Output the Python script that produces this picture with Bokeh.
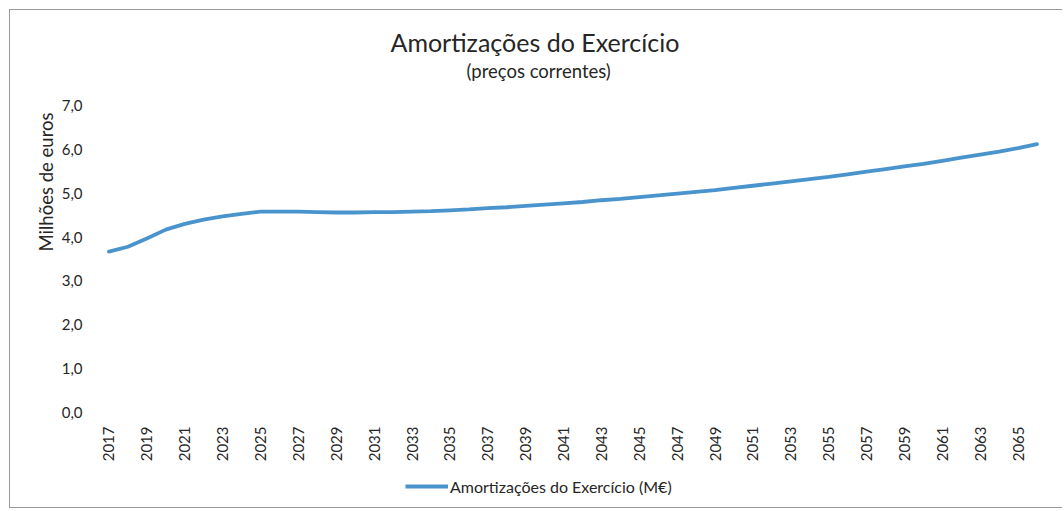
import math
from bokeh.plotting import figure
from bokeh.layouts import column
from bokeh.models import (ColumnDataSource, FixedTicker, CustomJSTickFormatter, Title,
                          Legend, LegendItem, Range1d)
from bokeh.embed import file_html
from bokeh.resources import INLINE

# ---- data ----
years = list(range(2017, 2067))
amortizacoes = [
    3.67, 3.78, 3.97, 4.17, 4.30, 4.40, 4.47, 4.53, 4.58, 4.58,
    4.58, 4.57, 4.56, 4.56, 4.57, 4.57, 4.58, 4.59, 4.61, 4.63,
    4.66, 4.68, 4.71, 4.74, 4.77, 4.80, 4.84, 4.87, 4.91, 4.95,
    4.99, 5.03, 5.07, 5.12, 5.17, 5.22, 5.27, 5.32, 5.37, 5.43,
    5.49, 5.55, 5.61, 5.67, 5.74, 5.81, 5.88, 5.95, 6.03, 6.12,
]
x_tick_years = list(range(2017, 2067, 2))
y_ticks = [0, 1, 2, 3, 4, 5, 6, 7]

title_text = "Amortizações do Exercício"
subtitle_text = "(preços correntes)"
y_title = "Milhões de euros"
series_name = "Amortizações do Exercício (M€)"

FONT = "Lato"
TXT = "#262626"
LINE = "#4a94cd"
BORDER = "1px solid #9a9a9a"

p = figure(width=1053, height=454, output_backend="svg", toolbar_location=None, title=None,
           x_range=Range1d(2016.5, 2066.5), y_range=Range1d(0, 7),
           min_border_left=89, min_border_right=17, min_border_top=95, min_border_bottom=52)
p.styles = {"border-left": BORDER, "border-top": BORDER}
p.outline_line_color = None
p.grid.grid_line_color = None
p.background_fill_color = "white"
p.border_fill_color = "white"

src = ColumnDataSource(dict(x=years, y=amortizacoes))
r = p.line("x", "y", source=src, line_color=LINE, line_width=3.8, line_cap="round", line_join="round")

# axes
p.xaxis.ticker = FixedTicker(ticks=x_tick_years)
p.xaxis.major_label_orientation = math.pi / 2
p.xaxis.major_label_standoff = 8
p.yaxis.ticker = FixedTicker(ticks=y_ticks)
p.yaxis.formatter = CustomJSTickFormatter(code="return tick.toFixed(1).replace('.', ',');")
p.yaxis.major_label_standoff = 11
for ax in (p.xaxis, p.yaxis):
    ax.axis_line_color = None
    ax.major_tick_line_color = None
    ax.minor_tick_line_color = None
    ax.major_label_text_font = FONT
    ax.major_label_text_color = TXT
p.xaxis.major_label_text_font_size = "15px"
p.yaxis.major_label_text_font_size = "15px"

# titles: spacer, subtitle, main title (stacked outward from the plot)
p.add_layout(Title(text=" ", standoff=10, text_font=FONT, text_font_size="10px"), "above")
p.add_layout(Title(text=subtitle_text, align="left", offset=367, standoff=0,
                   text_font=FONT, text_font_size="18.5px", text_font_style="normal",
                   text_color=TXT), "above")
p.add_layout(Title(text=title_text, align="left", offset=291, standoff=2,
                   text_font=FONT, text_font_size="25px", text_font_style="normal",
                   text_color=TXT), "above")
p.add_layout(Title(text=y_title, align="right", offset=7, standoff=4,
                   text_font=FONT, text_font_size="18.5px", text_font_style="normal",
                   text_color=TXT), "left")

# legend strip below the chart (its frame is aligned with the main frame by the column)
q = figure(width=1053, height=45, output_backend="svg", toolbar_location=None,
           x_range=Range1d(0, 1), y_range=Range1d(0, 1),
           x_axis_location=None, y_axis_location=None,
           min_border_left=0, min_border_right=0, min_border_top=0, min_border_bottom=0)
q.styles = {"border-left": BORDER, "border-bottom": BORDER}
q.outline_line_color = None
q.grid.grid_line_color = None
q.border_fill_color = "white"
leg_src = ColumnDataSource(dict(x=[5, 6], y=[5, 6]))
r_leg = q.line("x", "y", source=leg_src, line_color=LINE, line_width=3.8)
legend = Legend(items=[LegendItem(label=series_name, renderers=[r_leg])],
                location=(306, 12), orientation="horizontal",
                glyph_width=43, glyph_height=20, label_standoff=2, padding=0, margin=0,
                border_line_color=None, background_fill_alpha=0,
                label_text_font=FONT, label_text_font_size="16px", label_text_color=TXT)
q.add_layout(legend, "center")

layout = column(p, q, spacing=0, styles={"margin-left": "9px", "margin-top": "9px"})
open("out.html", "w").write(file_html(layout, INLINE))
